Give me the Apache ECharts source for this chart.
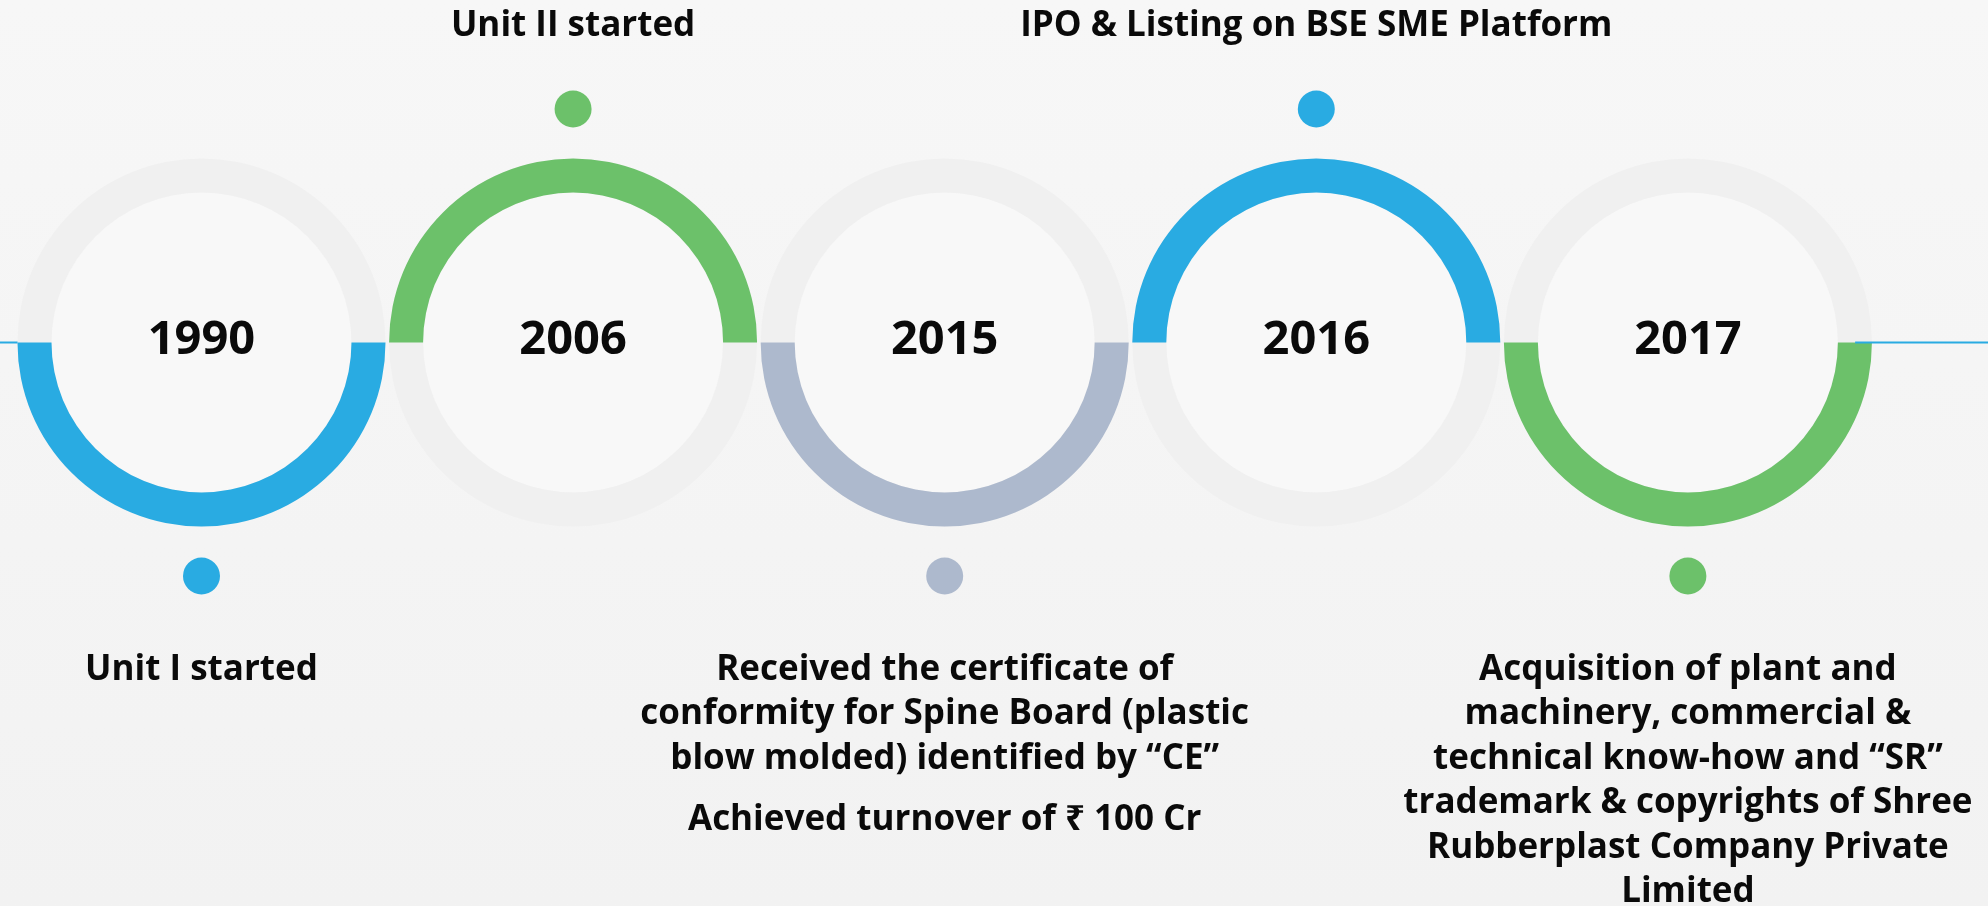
<!DOCTYPE html>
<html>
<head>
<meta charset="utf-8">
<script src="https://cdn.jsdelivr.net/npm/echarts@6/dist/echarts.min.js"></script>
<style>
html, body { margin: 0; padding: 0; background: #f5f5f5; }
#chart { width: 1988px; height: 906px; }
</style>
</head>
<body>
<div id="chart"></div>
<script>
const years = ['1990', '2006', '2015', '2016', '2017'];
const ringColors = ['#29abe2', '#6cc16a', '#adb9cd', '#29abe2', '#6cc16a'];
// 1 = coloured half on top, -1 = coloured half at the bottom
const ringHalf = [-1, 1, -1, 1, -1];
// marker dot above (1) or below (-1) the ring
const dotSide = [-1, 1, -1, 1, -1];
// '' marks a paragraph gap
const events = [
  ['Unit I started'],
  ['Unit II started'],
  ['Received the certificate of', 'conformity for Spine Board (plastic', 'blow molded) identified by \u201cCE\u201d', '', 'Achieved turnover of \u20b9 100 Cr'],
  ['IPO & Listing on BSE SME Platform'],
  ['Acquisition of plant and', 'machinery, commercial &', 'technical know-how and \u201cSR\u201d', 'trademark & copyrights of Shree', 'Rubberplast Company Private', 'Limited']
];
// thin connectors running off both edges, in axis units
const leftLink = [-0.5422, -0.495];
const rightLink = [4.45, 4.8076];

const FONT = '"Open Sans", "Noto Sans", sans-serif';
const TEXT = '#0a0a0a';

const chart = echarts.init(document.getElementById('chart'));

const ringData = years.map((y, i) => [i, ringHalf[i]]);

const dotData = years.map((y, i) => ({
  value: [i, dotSide[i]],
  itemStyle: { color: ringColors[i], opacity: 1 },
  label: {
    show: true,
    position: dotSide[i] > 0 ? 'top' : 'bottom',
    distance: dotSide[i] > 0 ? 42 : 53,
    formatter: events[i].map(l => l === '' ? '{gap| }' : '{t|' + l + '}').join('\n')
  }
}));

chart.setOption({
  backgroundColor: new echarts.graphic.LinearGradient(0, 0, 0, 1, [
    { offset: 0, color: '#f7f7f7' },
    { offset: 1, color: '#f2f2f2' }
  ]),
  animation: false,
  grid: { left: 0, right: 0, top: 109, height: 467 },
  xAxis: { type: 'value', min: -0.5422, max: 4.8076, show: false },
  yAxis: { type: 'value', min: -1, max: 1, show: false },
  series: [
    {
      type: 'custom',
      clip: false,
      z: 2,
      data: ringData,
      renderItem: function (params, api) {
        const i = api.value(0);
        const c = api.coord([i, 0]);
        const start = api.value(1) > 0 ? Math.PI : 0;
        return {
          type: 'group',
          children: [
            { type: 'circle', shape: { cx: c[0], cy: c[1], r: 150 }, style: { fill: '#f8f8f8' } },
            { type: 'sector', shape: { cx: c[0], cy: c[1], r0: 150, r: 184, startAngle: 0, endAngle: Math.PI * 2 }, style: { fill: '#f0f0f0' } },
            { type: 'sector', shape: { cx: c[0], cy: c[1], r0: 150, r: 184, startAngle: start, endAngle: start + Math.PI }, style: { fill: ringColors[i] } },
            {
              type: 'text',
              style: {
                text: years[i], x: c[0], y: c[1] - 2,
                align: 'center', verticalAlign: 'middle',
                fontFamily: FONT, fontWeight: 'bold', fontSize: 47, fill: TEXT
              }
            }
          ]
        };
      }
    },
    {
      type: 'line',
      clip: false,
      z: 3,
      symbol: 'none',
      lineStyle: { color: '#29abe2', width: 2 },
      data: [[leftLink[0], 0], [leftLink[1], 0]]
    },
    {
      type: 'line',
      clip: false,
      z: 3,
      symbol: 'none',
      lineStyle: { color: '#29abe2', width: 2 },
      data: [[rightLink[0], 0], [rightLink[1], 0]]
    },
    {
      type: 'scatter',
      clip: false,
      z: 4,
      symbolSize: 37,
      data: dotData,
      label: {
        align: 'center',
        color: TEXT,
        rich: {
          t: { fontFamily: FONT, fontWeight: 'bold', fontSize: 35, lineHeight: 44.5, color: TEXT, align: 'center' },
          gap: { fontSize: 10, lineHeight: 17 }
        }
      }
    }
  ]
});
</script>
</body>
</html>
